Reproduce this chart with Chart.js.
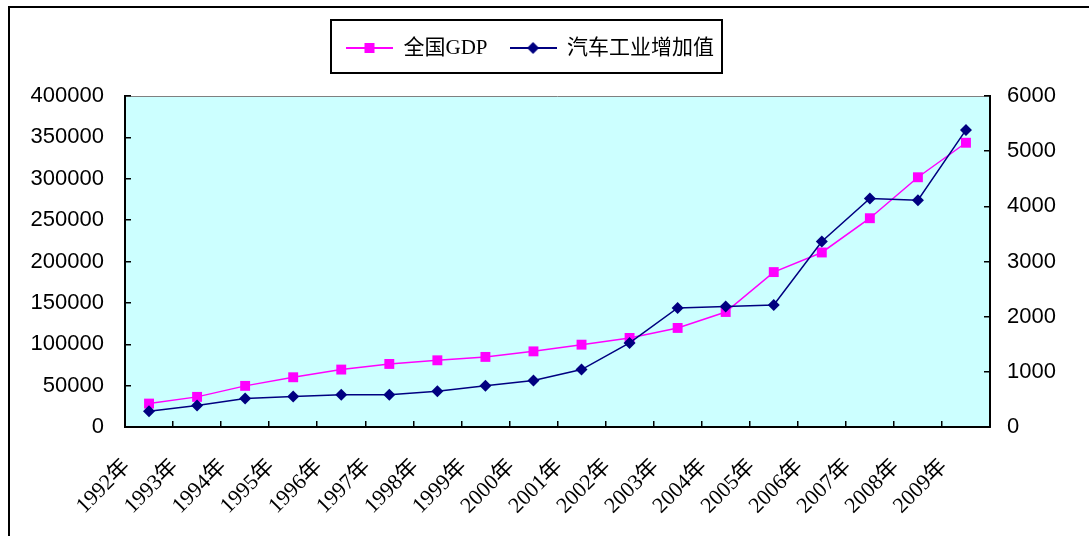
<!DOCTYPE html>
<html>
<head>
<meta charset="utf-8">
<title>全国GDP与汽车工业增加值</title>
<script src="https://cdn.jsdelivr.net/npm/chart.js@4/dist/chart.umd.min.js"></script>
<style>
  html, body { margin: 0; padding: 0; background: #fff; overflow: hidden; }
  #wrap { position: relative; width: 1089px; height: 536px; }
  #frame { position: absolute; left: 8px; top: 6px; width: 1200px; height: 700px;
           border-left: 2px solid #000; border-top: 2px solid #000; }
  #chart { position: absolute; left: 0; top: 0; }
</style>
</head>
<body>
<div id="wrap">
  <div id="frame"></div>
  <canvas id="chart" width="1089" height="536"></canvas>
</div>
<script>
// Years on the category axis
const years = ['1992年', '1993年', '1994年', '1995年', '1996年', '1997年', '1998年', '1999年', '2000年',
               '2001年', '2002年', '2003年', '2004年', '2005年', '2006年', '2007年', '2008年', '2009年'];

// 全国GDP (left axis)
const gdp = [28300, 36400, 49700, 60100, 69400, 76200, 80600, 84700, 91400,
             99500, 107600, 119700, 139000, 187200, 210900, 252300, 301800, 343500];

// 汽车工业增加值 (right axis)
const autoValueAdded = [286, 389, 516, 552, 583, 583, 648, 746, 842,
                        1041, 1524, 2157, 2186, 2212, 3363, 4141, 4112, 5385];

// Tick values of the two value axes
const gdpTicks = [0, 50000, 100000, 150000, 200000, 250000, 300000, 350000, 400000];
const autoTicks = [0, 1000, 2000, 3000, 4000, 5000, 6000];

const GDP_COLOR = '#FF00FF';
const AUTO_COLOR = '#000080';

// Legend symbol: a short line with the series marker in the middle
function legendSymbol(color, shape) {
  const c = document.createElement('canvas');
  c.width = 47; c.height = 14;
  const g = c.getContext('2d');
  g.strokeStyle = color; g.lineWidth = 2;
  g.beginPath(); g.moveTo(0, 7); g.lineTo(47, 7); g.stroke();
  g.fillStyle = color;
  g.beginPath();
  if (shape === 'rect') {
    g.rect(18.5, 2, 10, 10);
  } else {
    g.moveTo(23.5, 1); g.lineTo(29.5, 7); g.lineTo(23.5, 13); g.lineTo(17.5, 7); g.closePath();
  }
  g.fill();
  return c;
}
const legendSymbols = [legendSymbol(GDP_COLOR, 'rect'), legendSymbol(AUTO_COLOR, 'diamond')];

const serifCJK = "'Liberation Serif', 'Noto Sans CJK SC', serif";
const sans = "'Liberation Sans', Arial, sans-serif";

// Light cyan plot background with a grey top edge
const plotBackground = {
  id: 'plotBackground',
  beforeDraw(chart) {
    const {ctx, chartArea: a} = chart;
    ctx.save();
    ctx.fillStyle = '#CCFFFF';
    ctx.fillRect(a.left, a.top, a.right - a.left, a.bottom - a.top);
    ctx.strokeStyle = '#808080';
    ctx.lineWidth = 1;
    ctx.beginPath();
    ctx.moveTo(a.left, a.top + 0.5);
    ctx.lineTo(a.right, a.top + 0.5);
    ctx.stroke();
    ctx.restore();
  }
};

// Legend band height and a framed box around the legend entries
const legendBox = {
  id: 'legendBox',
  afterInit(chart) {
    const lg = chart.legend;
    const fit = lg.fit.bind(lg);
    lg.fit = function () { fit(); this.height = 80.5; };
  },
  afterDraw(chart) {
    const boxes = chart.legend.legendHitBoxes;
    if (!boxes || !boxes.length) return;
    const first = boxes[0], last = boxes[boxes.length - 1];
    const cy = first.top + first.height / 2;
    const x0 = first.left - 15, x1 = last.left + last.width + 8;
    const y0 = cy - 28, y1 = cy + 25;
    const {ctx} = chart;
    ctx.save();
    ctx.strokeStyle = '#000';
    ctx.lineWidth = 2;
    ctx.strokeRect(Math.round(x0), Math.round(y0), Math.round(x1 - x0), Math.round(y1 - y0));
    ctx.restore();
  }
};

const plainNumber = v => String(v);

new Chart(document.getElementById('chart'), {
  type: 'line',
  data: {
    labels: years,
    datasets: [
      {
        label: '全国GDP',
        data: gdp,
        yAxisID: 'y',
        order: 2,
        borderColor: GDP_COLOR,
        backgroundColor: GDP_COLOR,
        borderWidth: 1.5,
        pointStyle: 'rect',
        pointRadius: 7,
        pointBorderWidth: 0,
        pointBackgroundColor: GDP_COLOR,
        tension: 0
      },
      {
        label: '汽车工业增加值',
        data: autoValueAdded,
        yAxisID: 'y1',
        order: 1,
        borderColor: AUTO_COLOR,
        backgroundColor: AUTO_COLOR,
        borderWidth: 1.5,
        pointStyle: 'rectRot',
        pointRadius: 6,
        pointBorderWidth: 0,
        pointBackgroundColor: AUTO_COLOR,
        tension: 0
      }
    ]
  },
  options: {
    responsive: false,
    animation: false,
    events: [],
    layout: { padding: { left: 0, right: 29, top: 15.5, bottom: 0 } },
    plugins: {
      tooltip: { enabled: false },
      legend: {
        position: 'top',
        align: 'center',
        labels: {
          usePointStyle: true,
          pointStyleWidth: 47,
          padding: 22,
          color: '#000',
          font: { family: serifCJK, size: 21 },
          sort: (a, b) => a.datasetIndex - b.datasetIndex,
          generateLabels(chart) {
            const items = Chart.defaults.plugins.legend.labels.generateLabels(chart);
            items.forEach(it => { it.pointStyle = legendSymbols[it.datasetIndex]; });
            return items;
          }
        }
      }
    },
    scales: {
      x: {
        type: 'category',
        offset: true,
        afterFit(s) { s.height = 109; },
        border: { color: '#000', width: 2 },
        grid: { offset: true, drawOnChartArea: false, drawTicks: true, tickLength: -6, color: '#000', lineWidth: 1.5 },
        ticks: {
          autoSkip: false,
          minRotation: 45,
          maxRotation: 45,
          labelOffset: -22,
          padding: 33,
          color: '#000',
          font: { family: serifCJK, size: 22 }
        }
      },
      y: {
        position: 'left',
        min: 0,
        max: 400000,
        afterBuildTicks(s) { s.ticks = gdpTicks.map(v => ({ value: v })); },
        afterFit(s) { s.width = 125; },
        border: { color: '#000', width: 2 },
        grid: { drawOnChartArea: false, drawTicks: true, tickLength: -6, color: '#000', lineWidth: 1.5 },
        ticks: {
          padding: 27,
          color: '#000',
          font: { family: sans, size: 22 },
          callback: plainNumber
        }
      },
      y1: {
        position: 'right',
        min: 0,
        max: 6000,
        afterBuildTicks(s) { s.ticks = autoTicks.map(v => ({ value: v })); },
        afterFit(s) { s.width = 70; },
        border: { color: '#000', width: 2 },
        grid: { drawOnChartArea: false, drawTicks: true, tickLength: -6, color: '#000', lineWidth: 1.5 },
        ticks: {
          padding: 23,
          color: '#000',
          font: { family: sans, size: 22 },
          callback: plainNumber
        }
      }
    }
  },
  plugins: [plotBackground, legendBox]
});
</script>
</body>
</html>
